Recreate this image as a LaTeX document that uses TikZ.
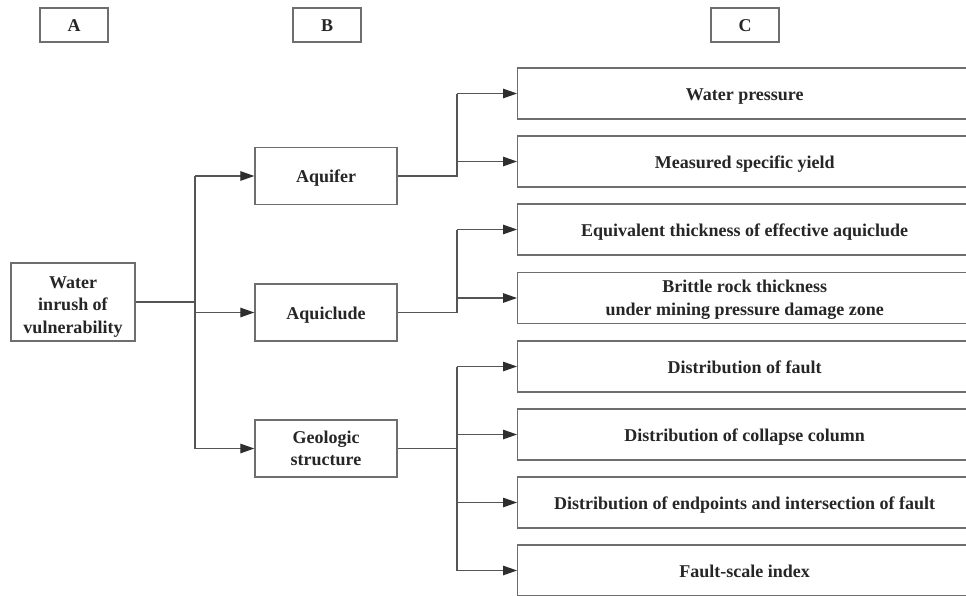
\documentclass[tikz,border=0pt]{standalone}
\usepackage{fontspec}
\setmainfont{Liberation Serif}
\usetikzlibrary{arrows.meta}
\definecolor{boxc}{HTML}{6E6E6E}
\definecolor{linec}{HTML}{555555}
\definecolor{txtc}{HTML}{262626}
\definecolor{tipc}{HTML}{2E2E2E}
\tikzset{
  every node/.style={font=\fontsize{18}{22.5}\selectfont\bfseries, text=txtc, align=center, inner sep=0pt, text height=13pt, text depth=-1pt},
  twoline/.style={text height=34pt, text depth=0pt},
  threeline/.style={text height=62pt, text depth=0pt},
  hbox/.style={draw=boxc, line width=1.4pt, minimum width=68pt, minimum height=34pt},
  lbox/.style={draw=boxc, line width=1.4pt, minimum width=142pt, minimum height=57pt},
  rbox/.style={draw=boxc, line width=1.4pt, minimum width=454pt, minimum height=51pt, anchor=west},
  conn/.style={draw=linec, line width=1.3pt},
  arr/.style={conn, -{Triangle[length=14pt,width=9.5pt,fill=tipc,color=tipc]}, shorten >=0pt}
}
\begin{document}
\begin{tikzpicture}[x=1pt,y=-1pt]
\useasboundingbox (0,0) rectangle (966,595);
\clip (0,0) rectangle (966,595);
\fill[white] (0,0) rectangle (966,595);
% headers
\node[hbox] (hA) at (74,25) {A};
\node[hbox] (hB) at (327,25) {B};
\node[hbox] (hC) at (745,25) {C};
% left
\node[draw=boxc, line width=1.4pt, minimum width=124pt, minimum height=78pt, threeline] (water) at (73,302) {Water\\inrush of\\vulnerability};
\node[lbox] (aquifer) at (326,176) {Aquifer};
\node[lbox] (aquiclude) at (326,312.5) {Aquiclude};
\node[lbox, twoline] (geo) at (326,448.5) {Geologic\\structure};
% right
\node[rbox] (c1) at (517,93.5) {Water pressure};
\node[rbox] (c2) at (517,161.5) {Measured specific yield};
\node[rbox] (c3) at (517,229.5) {Equivalent thickness of effective aquiclude};
\node[rbox, twoline] (c4) at (517,298) {Brittle rock thickness\\under mining pressure damage zone};
\node[rbox] (c5) at (517,366.5) {Distribution of fault};
\node[rbox] (c6) at (517,434.5) {Distribution of collapse column};
\node[rbox] (c7) at (517,502.5) {Distribution of endpoints and intersection of fault};
\node[rbox] (c8) at (517,570.5) {Fault-scale index};
% trunk coordinates
\coordinate (tl) at (195,0);
\coordinate (tr) at (457,0);
% left connectors
\draw[conn] (water.east) -- (water.east -| tl);
\draw[conn] (tl |- aquifer) -- (tl |- geo);
\draw[arr] (tl |- aquifer) -- (aquifer.west);
\draw[arr] (tl |- aquiclude) -- (aquiclude.west);
\draw[arr] (tl |- geo) -- (geo.west);
% aquifer group
\draw[conn] (aquifer.east) -- (tr |- aquifer) -- (tr |- c1);
\draw[arr] (tr |- c1) -- (c1.west);
\draw[arr] (tr |- c2) -- (c2.west);
% aquiclude group
\draw[conn] (aquiclude.east) -- (tr |- aquiclude) -- (tr |- c3);
\draw[arr] (tr |- c3) -- (c3.west);
\draw[arr] (tr |- c4) -- (c4.west);
% geologic group
\draw[conn] (geo.east) -- (tr |- geo);
\draw[conn] (tr |- c5) -- (tr |- c8);
\draw[arr] (tr |- c5) -- (c5.west);
\draw[arr] (tr |- c6) -- (c6.west);
\draw[arr] (tr |- c7) -- (c7.west);
\draw[arr] (tr |- c8) -- (c8.west);
\end{tikzpicture}
\end{document}
